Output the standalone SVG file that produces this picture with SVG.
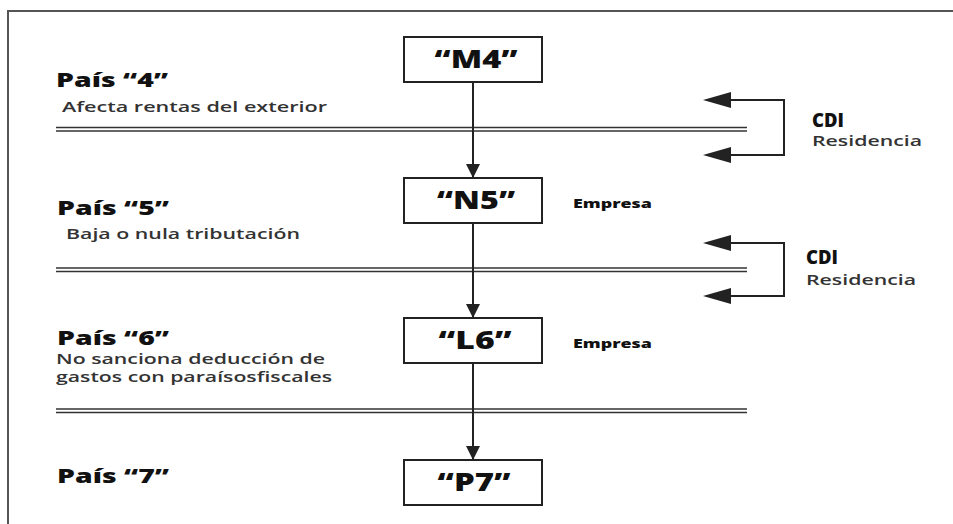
<svg xmlns="http://www.w3.org/2000/svg" width="953" height="524" viewBox="0 0 953 524">
<defs>
<style>
.frame{fill:none;stroke:#555;stroke-width:2}
.box{fill:#fff;stroke:#222;stroke-width:2}
.dl{stroke:#333;stroke-width:1.4;fill:none}
.conn{stroke:#222;stroke-width:2;fill:none}
.node{font-family:"Open Sans",Lato,sans-serif;font-weight:800;font-size:25px;fill:#111;text-anchor:middle}
.pais{font-family:"Open Sans",Lato,sans-serif;font-weight:800;font-size:19px;fill:#111}
.sub{font-family:"Open Sans",Lato,sans-serif;font-weight:600;font-size:14.5px;fill:#333}
.cdi{font-family:"Open Sans",Lato,sans-serif;font-weight:800;font-size:20px;fill:#111}
.emp{font-family:"Open Sans",Lato,sans-serif;font-weight:800;font-size:12.5px;fill:#111}
</style>
<marker id="ah" viewBox="0 0 10 10" refX="10" refY="5" markerWidth="7" markerHeight="7.5" markerUnits="strokeWidth" orient="auto">
<path d="M0,0 L10,5 L0,10 Z" fill="#222"/>
</marker>
</defs>
<rect width="953" height="524" fill="#fff"/>
<path class="frame" d="M8,524 V11 H953"/>

<g id="separators">
<line class="dl" x1="56" y1="127.5" x2="747" y2="127.5"/>
<line class="dl" x1="56" y1="131" x2="747" y2="131"/>
<line class="dl" x1="56" y1="268" x2="747" y2="268"/>
<line class="dl" x1="56" y1="271.5" x2="747" y2="271.5"/>
<line class="dl" x1="56" y1="409" x2="747" y2="409"/>
<line class="dl" x1="56" y1="412.5" x2="747" y2="412.5"/>
</g>

<g id="connectors">
<line class="conn" x1="473" y1="82" x2="473" y2="178" marker-end="url(#ah)"/>
<line class="conn" x1="473" y1="223" x2="473" y2="318" marker-end="url(#ah)"/>
<line class="conn" x1="473" y1="363" x2="473" y2="460" marker-end="url(#ah)"/>
<polyline class="conn" points="720,155 784,155 784,100 720,100"/>
<path d="M731,92 L703,100 L731,108 Z" fill="#222"/>
<path d="M731,147 L703,155 L731,163 Z" fill="#222"/>
<polyline class="conn" points="720,296 784,296 784,243 720,243"/>
<path d="M731,235 L703,243 L731,251 Z" fill="#222"/>
<path d="M731,288 L703,296 L731,304 Z" fill="#222"/>
</g>

<g id="M4"><rect class="box" x="404" y="37" width="138" height="45"/><text class="node" x="476" y="68" textLength="83" lengthAdjust="spacingAndGlyphs">“M4”</text></g>
<g id="N5"><rect class="box" x="404" y="178" width="138" height="45"/><text class="node" x="476" y="209" textLength="78" lengthAdjust="spacingAndGlyphs">“N5”</text></g>
<g id="L6"><rect class="box" x="404" y="318" width="138" height="45"/><text class="node" x="475" y="349" textLength="73" lengthAdjust="spacingAndGlyphs">“L6”</text></g>
<g id="P7"><rect class="box" x="404" y="460" width="138" height="45"/><text class="node" x="474" y="491" textLength="73" lengthAdjust="spacingAndGlyphs">“P7”</text></g>

<g id="pais4">
<text class="pais" x="56" y="87" textLength="112" lengthAdjust="spacingAndGlyphs">País “4”</text>
<text class="sub" x="62" y="112" textLength="265" lengthAdjust="spacingAndGlyphs">Afecta rentas del exterior</text>
</g>
<g id="pais5">
<text class="pais" x="57" y="215" textLength="112" lengthAdjust="spacingAndGlyphs">País “5”</text>
<text class="sub" x="66" y="239" textLength="234" lengthAdjust="spacingAndGlyphs">Baja o nula tributación</text>
</g>
<g id="pais6">
<text class="pais" x="57" y="345" textLength="112" lengthAdjust="spacingAndGlyphs">País “6”</text>
<text class="sub" x="56" y="364" textLength="269" lengthAdjust="spacingAndGlyphs">No sanciona deducción de</text>
<text class="sub" x="56" y="382" textLength="276" lengthAdjust="spacingAndGlyphs">gastos con paraísosfiscales</text>
</g>
<g id="pais7">
<text class="pais" x="57" y="483" textLength="112" lengthAdjust="spacingAndGlyphs">País “7”</text>
</g>

<g id="cdi1">
<text class="cdi" x="812" y="127" textLength="32" lengthAdjust="spacingAndGlyphs">CDI</text>
<text class="sub" x="812" y="146" textLength="110" lengthAdjust="spacingAndGlyphs">Residencia</text>
</g>
<g id="cdi2">
<text class="cdi" x="806" y="264" textLength="32" lengthAdjust="spacingAndGlyphs">CDI</text>
<text class="sub" x="806" y="285" textLength="110" lengthAdjust="spacingAndGlyphs">Residencia</text>
</g>
<g id="empresa1"><text class="emp" x="573" y="208" textLength="79" lengthAdjust="spacingAndGlyphs">Empresa</text></g>
<g id="empresa2"><text class="emp" x="573" y="348" textLength="79" lengthAdjust="spacingAndGlyphs">Empresa</text></g>
</svg>
